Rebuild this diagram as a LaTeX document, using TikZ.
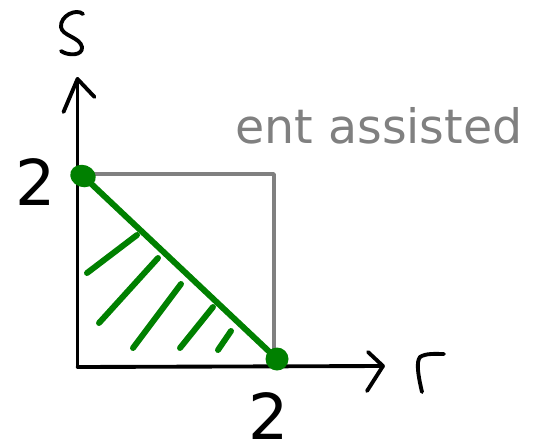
\documentclass[tikz,border=0pt]{standalone}
\usepackage{fontspec}
\setmainfont{DejaVu Sans}
\usetikzlibrary{positioning}
\definecolor{regc}{RGB}{0,128,0}
\definecolor{boxc}{RGB}{128,128,128}
\begin{document}
\begin{tikzpicture}[x=0.02cm, y=-0.02cm, line cap=round, line join=round,
    pen/.style={line width=2.2pt, black},
    hatch/.style={line width=3.4pt, regc},
    cornerdot/.style={fill=regc, draw=none},
    ticklabel/.style={font=\fontsize{36}{40}\selectfont, anchor=base, inner sep=0pt}]
  \useasboundingbox (0,0) rectangle (544,443);
  % axes
  \coordinate (O) at (77.5,367);
  \coordinate (ytip) at (77.5,79);
  \coordinate (xtip) at (383,366);
  \draw[pen] (O) -- (ytip);
  \draw[pen] (O) -- (xtip);
  \draw[pen] (ytip) -- ++(-14,33);
  \draw[pen] (ytip) -- ++(17,18);
  \draw[pen] (xtip) -- ++(-15,-14);
  \draw[pen] (xtip) -- ++(-16,25);
  % handwritten axis letters
  \draw[pen] (83,14) .. controls (76,8) and (60,16) .. (61,27)
                     .. controls (62,36) and (80,37) .. (82,47)
                     .. controls (83,56) and (68,56) .. (61,51);
  \draw[pen] (422,392) .. controls (418,375) and (416,362) .. (420,357)
                       .. controls (426,353) and (436,354) .. (444,354);
  % entanglement-assisted box
  \coordinate (sq) at (77.5,174);
  \coordinate (rq) at (274,367);
  \draw[boxc, line width=2pt] (sq) -- (274,174) -- (rq);
  \node[text=boxc, font=\fontsize{27}{30}\selectfont, anchor=base] (ea) at (379,143) {ent assisted};
  % tick labels
  \node[ticklabel] (stwo) at (36,205) {2};
  \node[ticklabel] (rtwo) at (269,439) {2};
  % region boundary
  \coordinate (top) at (83,176);
  \coordinate (bot) at (277,359);
  \draw[hatch] (top) -- (bot);
  \fill[cornerdot, rotate=-20] (top) ellipse [x radius=13, y radius=11];
  \fill[cornerdot] (bot) circle [radius=11.5];
  % hatching
  \draw[hatch] (87,273) -- (137,235);
  \draw[hatch] (99,323) -- (158,258);
  \draw[hatch] (133,348) -- (181,284);
  \draw[hatch] (180,348) -- (213,307);
  \draw[hatch] (218,350) -- (231,331);
\end{tikzpicture}
\end{document}
